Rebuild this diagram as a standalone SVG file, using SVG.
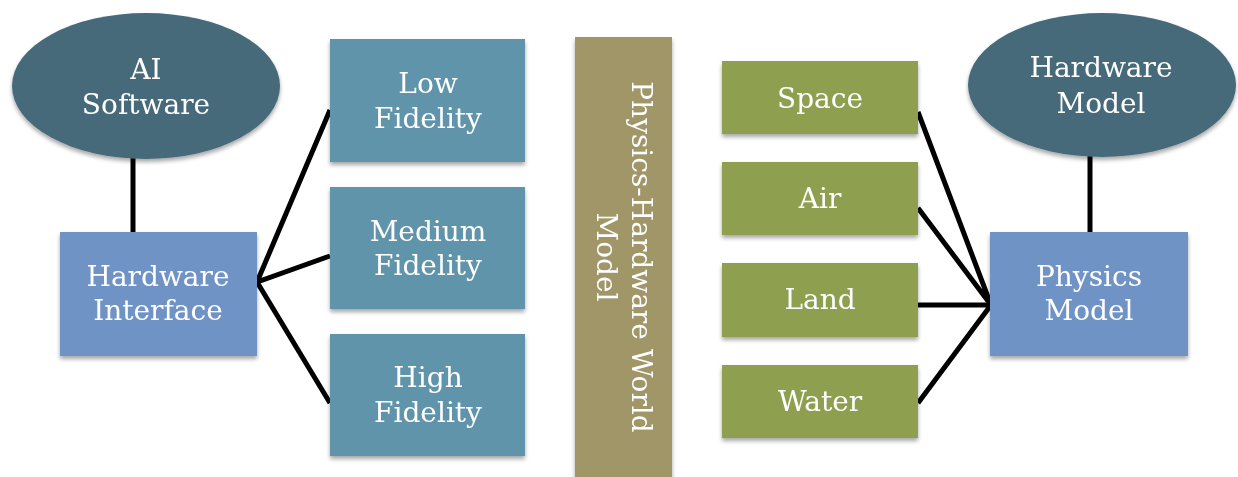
<svg xmlns="http://www.w3.org/2000/svg" width="1238" height="477" viewBox="0 0 1238 477">
  <style>
    .lbl { font-family: "DejaVu Serif", "Liberation Serif", serif; font-size: 28px; fill: #ffffff; text-anchor: middle; }
    .ell { fill: #466a7a; }
    .fid { fill: #6194aa; }
    .blu { fill: #7093c6; }
    .grn { fill: #8ea050; }
    .bar { fill: #a09668; }
    .con { stroke: #000000; stroke-width: 5; fill: none; stroke-linecap: butt; stroke-linejoin: miter; }
  </style>
  <defs>
    <filter id="shadow" x="-10%" y="-10%" width="120%" height="130%">
      <feGaussianBlur in="SourceAlpha" stdDeviation="2"/>
      <feOffset dx="0" dy="3" result="b"/>
      <feComponentTransfer><feFuncA type="linear" slope="0.35"/></feComponentTransfer>
      <feMerge><feMergeNode/><feMergeNode in="SourceGraphic"/></feMerge>
    </filter>
  </defs>
  <rect width="1238" height="477" fill="#ffffff"/>

  <!-- connectors -->
  <g id="connectors" class="con">
    <line x1="133" y1="150" x2="133" y2="234"/>
    <line x1="1090" y1="150" x2="1090" y2="234"/>
    <polyline points="330,110 257,282 330,256"/>
    <polyline points="257,282 330,403"/>
    <polyline points="918,112 991,305 918,208"/>
    <polyline points="918,305 991,305 918,403"/>
  </g>

  <g id="ai-software" filter="url(#shadow)">
    <ellipse class="ell" cx="146" cy="86" rx="134" ry="73"/>
    <text class="lbl" x="146" y="79">AI</text>
    <text class="lbl" x="146" y="114">Software</text>
  </g>

  <g id="hardware-interface" filter="url(#shadow)">
    <rect class="blu" x="60" y="232" width="197" height="124"/>
    <text class="lbl" x="158" y="286">Hardware</text>
    <text class="lbl" x="158" y="320">Interface</text>
  </g>

  <g id="low-fidelity" filter="url(#shadow)">
    <rect class="fid" x="330" y="39" width="195" height="123"/>
    <text class="lbl" x="428" y="93">Low</text>
    <text class="lbl" x="428" y="128">Fidelity</text>
  </g>

  <g id="medium-fidelity" filter="url(#shadow)">
    <rect class="fid" x="330" y="187" width="195" height="122"/>
    <text class="lbl" x="428" y="241">Medium</text>
    <text class="lbl" x="428" y="275">Fidelity</text>
  </g>

  <g id="high-fidelity" filter="url(#shadow)">
    <rect class="fid" x="330" y="334" width="195" height="122"/>
    <text class="lbl" x="428" y="387">High</text>
    <text class="lbl" x="428" y="422">Fidelity</text>
  </g>

  <g id="world-model" filter="url(#shadow)">
    <rect class="bar" x="575" y="37" width="97" height="445"/>
    <text class="lbl" transform="translate(632,257) rotate(90)">Physics-Hardware World</text>
    <text class="lbl" transform="translate(597,257) rotate(90)">Model</text>
  </g>

  <g id="space" filter="url(#shadow)">
    <rect class="grn" x="722" y="61" width="196" height="73"/>
    <text class="lbl" x="820" y="108">Space</text>
  </g>

  <g id="air" filter="url(#shadow)">
    <rect class="grn" x="722" y="162" width="196" height="73"/>
    <text class="lbl" x="820" y="208">Air</text>
  </g>

  <g id="land" filter="url(#shadow)">
    <rect class="grn" x="722" y="263" width="196" height="74"/>
    <text class="lbl" x="820" y="309">Land</text>
  </g>

  <g id="water" filter="url(#shadow)">
    <rect class="grn" x="722" y="365" width="196" height="73"/>
    <text class="lbl" x="820" y="411">Water</text>
  </g>

  <g id="hardware-model" filter="url(#shadow)">
    <ellipse class="ell" cx="1102" cy="85" rx="134" ry="72"/>
    <text class="lbl" x="1101" y="77">Hardware</text>
    <text class="lbl" x="1101" y="113">Model</text>
  </g>

  <g id="physics-model" filter="url(#shadow)">
    <rect class="blu" x="990" y="232" width="198" height="124"/>
    <text class="lbl" x="1089" y="286">Physics</text>
    <text class="lbl" x="1089" y="320">Model</text>
  </g>
</svg>
